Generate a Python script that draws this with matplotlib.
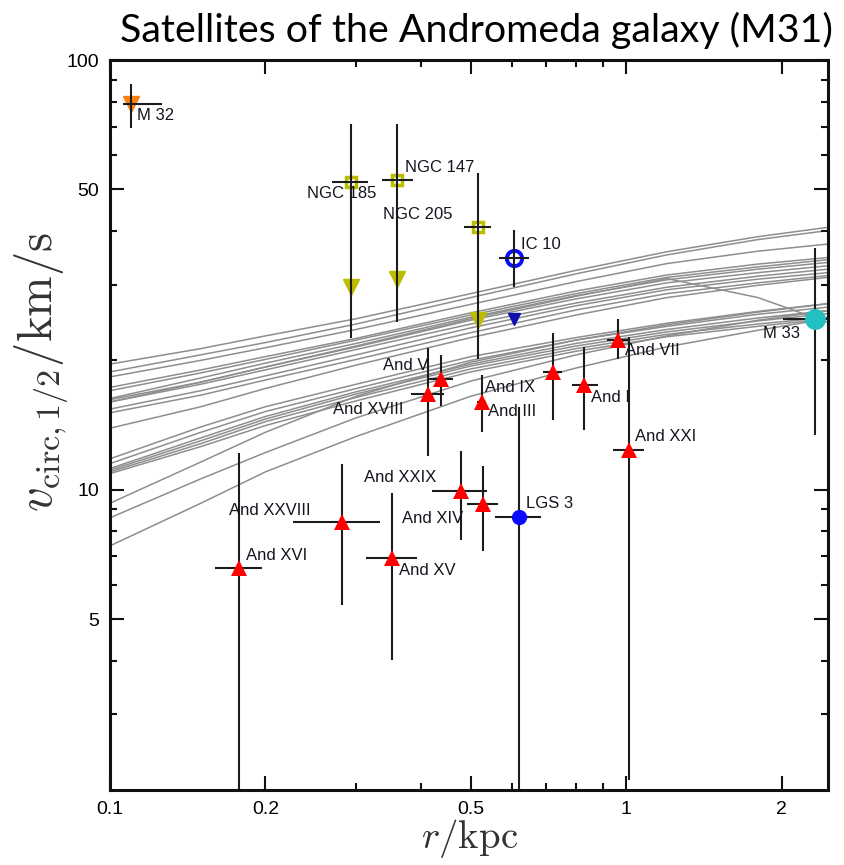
import matplotlib
matplotlib.use("Agg")
import matplotlib.pyplot as plt
from matplotlib.ticker import FixedLocator, NullFormatter, FixedFormatter

plt.rcParams['mathtext.fontset'] = 'cm'
plt.rcParams['font.family'] = ['Liberation Sans', 'DejaVu Sans']

# subhalo rotation curves (grey), v_circ in km/s sampled at halo_r (kpc)
halo_r = [0.1, 0.15, 0.2, 0.3, 0.5, 0.8, 1.2, 1.8, 2.46]
halo_v = [
    [19.6, 21.3, 22.8, 25.0, 28.6, 32.4, 35.8, 38.8, 40.8],
    [18.8, 20.6, 22.0, 24.3, 28.0, 31.8, 35.2, 38.2, 40.1],
    [18.3, 20.0, 21.4, 23.6, 27.0, 30.5, 33.6, 35.9, 37.3],
    [17.3, 19.0, 20.4, 22.5, 25.8, 29.0, 31.6, 33.5, 34.7],
    [17.0, 18.7, 20.1, 22.3, 25.5, 28.6, 31.2, 33.0, 34.3],
    [16.3, 18.2, 19.7, 21.9, 25.2, 28.3, 30.8, 32.6, 33.8],
    [16.2, 17.8, 19.3, 21.5, 24.8, 27.8, 30.3, 32.0, 33.2],
    [16.0, 17.6, 19.0, 21.2, 24.3, 27.2, 29.6, 31.4, 32.6],
    [15.4, 17.0, 18.4, 20.6, 23.8, 26.8, 29.2, 30.9, 32.0],
    [15.1, 16.6, 18.0, 20.1, 23.2, 26.2, 28.6, 30.3, 31.5],
    [13.9, 15.6, 17.2, 19.5, 22.6, 25.5, 28.0, 29.9, 31.2],
    [16.0, 17.8, 19.3, 21.6, 25.0, 28.2, 31.0, 28.0, 24.5],
    [11.8, 14.0, 15.6, 17.6, 20.4, 22.6, 24.4, 26.0, 27.1],
    [11.5, 13.6, 15.2, 17.2, 20.0, 22.3, 24.0, 25.6, 26.6],
    [11.2, 13.2, 14.8, 16.9, 19.6, 21.9, 23.6, 25.1, 26.1],
    [11.1, 13.0, 14.6, 16.7, 19.4, 21.6, 23.3, 24.7, 25.7],
    [11.0, 12.8, 14.4, 16.4, 19.1, 21.3, 23.0, 24.3, 25.2],
    [10.9, 12.6, 14.1, 16.1, 18.8, 21.0, 22.7, 24.0, 25.0],
    [9.3, 11.6, 13.6, 16.5, 19.8, 22.3, 24.2, 25.9, 27.1],
    [8.6, 10.6, 12.2, 14.7, 17.9, 20.6, 22.8, 24.8, 26.1],
    [7.4, 9.3, 11.0, 13.3, 16.5, 19.2, 21.5, 23.5, 25.0],
]

# satellites: half-light radius (kpc) and circular velocity (km/s) with ranges
sat_name = ['M 32', 'NGC 185', 'NGC 147', 'NGC 205', 'IC 10', 'M 33',
            'And VII', 'And I', 'And XXI', 'And II', 'And V', 'And XVIII',
            'And IX', 'And XXIX', 'And XIV', 'LGS 3', 'And XV', 'And XVI',
            'And XXVIII']
sat_kind = ['m32', 'ngc', 'ngc', 'ngc', 'ic10', 'm33',
            'dsph', 'dsph', 'dsph', 'dsph', 'dsph', 'dsph',
            'dsph', 'dsph', 'dsph', 'lgs3', 'dsph', 'dsph', 'dsph']
sat_r = [0.1098, 0.2927, 0.3603, 0.5173, 0.6075, 2.317,
         0.965, 0.830, 1.012, 0.720, 0.438, 0.414,
         0.525, 0.479, 0.529, 0.621, 0.3525, 0.178, 0.2812]
sat_r_lo = [0.106, 0.2693, 0.3366, 0.4853, 0.5674, 2.016,
            0.919, 0.785, 0.942, 0.690, 0.4134, 0.3825,
            0.515, 0.4213, 0.4925, 0.557, 0.313, 0.1598, 0.226]
sat_r_hi = [0.126, 0.316, 0.3866, 0.5476, 0.6486, 2.65,
            1.018, 0.880, 1.085, 0.751, 0.4614, 0.444,
            0.535, 0.537, 0.5656, 0.684, 0.393, 0.1968, 0.3338]
sat_v = [79.0, 51.9, 52.6, 40.8, 34.7, 24.9,
         22.3, 17.55, 12.35, 18.8, 18.1, 16.7,
         16.0, 9.92, 9.25, 8.65, 6.93, 6.56, 8.42]
sat_v_lo = [69.6, 22.5, 24.5, 20.1, 29.7, 13.4,
            20.1, 13.8, 2.11, 14.5, 15.7, 12.0,
            13.6, 7.63, 7.21, 1.5, 4.02, 1.5, 5.39]
sat_v_hi = [87.8, 71.0, 71.0, 54.7, 40.3, 36.5,
            25.0, 21.5, 22.7, 23.1, 20.6, 21.4,
            18.45, 12.3, 11.34, 15.6, 9.85, 12.2, 11.5]

# alternative (lower) estimates for the bright dwarfs
alt_r = [0.2927, 0.3603, 0.5173, 0.6075]
alt_v = [29.7, 31.0, 24.8, 25.0]
alt_color = ['#bdbd00', '#bdbd00', '#bdbd00', '#1010b0']
alt_size = [11, 11, 11, 9]

# name labels: text, left edge r, centre v
label_text = ['M 32', 'NGC 185', 'NGC 147', 'NGC 205', 'IC 10', 'M 33',
              'And VII', 'And I', 'And XXI', 'And V', 'And XVIII', 'And IX',
              'And III', 'And XXIX', 'And XIV', 'LGS 3', 'And XV',
              'And XXVIII', 'And XVI']
label_r = [0.1126, 0.2409, 0.3730, 0.3381, 0.6258, 1.843,
           0.9956, 0.8556, 1.041, 0.3385, 0.2702, 0.5329,
           0.5395, 0.3106, 0.3675, 0.6399, 0.3637, 0.1703, 0.1835]
label_v = [74.1, 48.8, 56.1, 43.6, 37.2, 23.1,
           21.1, 16.4, 13.3, 19.5, 15.4, 17.3,
           15.2, 10.65, 8.57, 9.29, 6.50, 8.96, 7.01]

styles = {
    'm32':  dict(marker='v', ms=12, mfc='#ff7f10', mec='#ff7f10', mew=1),
    'ngc':  dict(marker='s', ms=7, mfc='none', mec='#bdbd00', mew=2.5),
    'ic10': dict(marker='o', ms=11, mfc='none', mec='#0a0aff', mew=2.8),
    'm33':  dict(marker='o', ms=15, mfc='#22c0c0', mec='#22c0c0', mew=0),
    'lgs3': dict(marker='o', ms=11, mfc='#0a0aff', mec='#0a0aff', mew=0),
    'dsph': dict(marker='^', ms=12, mfc='#ff0000', mec='#ff0000', mew=0),
}
err_on_top = ['m32', 'ngc', 'ic10']

fig = plt.figure(figsize=(8.44, 8.65), dpi=100)
ax = fig.add_axes([0.1303, 0.0867, 0.8507, 0.8439])
ax.set_xscale('log')
ax.set_yscale('log')

for v in halo_v:
    ax.plot(halo_r, v, color='#8e8e8e', lw=1.1, zorder=1)

for i in range(len(sat_name)):
    st = styles[sat_kind[i]]
    on_top = sat_kind[i] in err_on_top
    ax.plot(sat_r[i], sat_v[i], linestyle='none', zorder=3, **st)
    ax.errorbar(sat_r[i], sat_v[i],
                xerr=[[sat_r[i] - sat_r_lo[i]], [sat_r_hi[i] - sat_r[i]]],
                yerr=[[sat_v[i] - sat_v_lo[i]], [sat_v_hi[i] - sat_v[i]]],
                fmt='none', ecolor='#1c1c1c', elinewidth=1.5, capsize=0,
                zorder=5 if on_top else 2)

for r, v, c, s in zip(alt_r, alt_v, alt_color, alt_size):
    ax.plot(r, v, marker='v', ms=s, color=c, linestyle='none', zorder=4)

for t, r, v in zip(label_text, label_r, label_v):
    ax.text(r, v, t, ha='left', va='center', fontsize=12, color='#15151f',
            zorder=6)

ax.set_xlim(0.1, 2.46)
ax.set_ylim(2, 100)

ax.xaxis.set_major_locator(FixedLocator([0.1, 0.2, 0.5, 1, 2]))
ax.xaxis.set_major_formatter(FixedFormatter(['0.1', '0.2', '0.5', '1', '2']))
ax.xaxis.set_minor_locator(FixedLocator([0.3, 0.4, 0.6, 0.7, 0.8, 0.9]))
ax.xaxis.set_minor_formatter(NullFormatter())
ax.yaxis.set_major_locator(FixedLocator([5, 10, 50, 100]))
ax.yaxis.set_major_formatter(FixedFormatter(['5', '10', '50', '100']))
ax.yaxis.set_minor_locator(FixedLocator([3, 4, 6, 7, 8, 9, 20, 30, 40,
                                         60, 70, 80, 90]))
ax.yaxis.set_minor_formatter(NullFormatter())

ax.tick_params(which='both', direction='in', top=True, right=True,
               width=1.5, color='#111111', labelsize=14)
ax.tick_params(which='major', length=10, pad=8)
ax.tick_params(which='minor', length=5)
for s in ax.spines.values():
    s.set_linewidth(2.2)
    s.set_color('#111111')

fig.text(0.049, 0.570, r'$v_{\rm circ,1/2}/{\rm km/s}$', rotation=90,
         ha='center', va='center', fontsize=35, color='#333333')
fig.text(0.556, 0.031, r'$r/{\rm kpc}$', ha='center', va='center',
         fontsize=28, color='#333333')

title = fig.text(0.987, 0.965, 'Satellites of the Andromeda galaxy (M31)',
                 ha='right', va='center', fontsize=26, family='Lato')
fig.canvas.draw()
w = title.get_window_extent().width
title.set_fontsize(26 * 713.0 / w)

fig.savefig('out.png', dpi=100)
